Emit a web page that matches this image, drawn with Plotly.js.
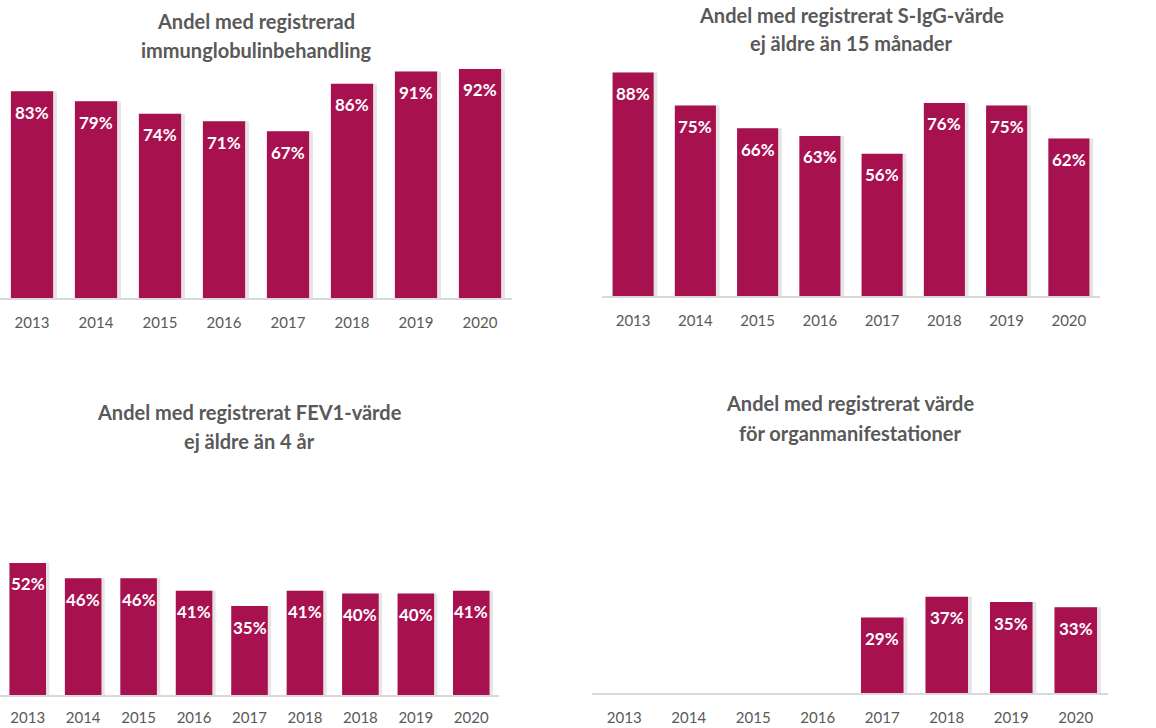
<!DOCTYPE html>
<html>
<head>
<meta charset="utf-8">
<script src="https://cdn.plot.ly/plotly-3.0.1.min.js"></script>
<style>html,body{margin:0;padding:0;background:#fff;}#chart{width:1156px;height:728px;}</style>
</head>
<body>
<div id="chart"></div>
<script>
// ---- data ----
const years8 = ['2013','2014','2015','2016','2017','2018','2019','2020'];
const years9 = ['2013','2014','2015','2016','2017','2018','2018','2019','2020'];
const immunoglobulin = [83,79,74,71,67,86,91,92];
const sIgG = [88,75,66,63,56,76,75,62];
const fev1 = [52,46,46,41,35,41,40,40,41];
const organ = [null,null,null,null,29,37,35,33];
const title1 = ['Andel med registrerad','immunglobulinbehandling'];
const title2 = ['Andel med registrerat S-IgG-värde','ej äldre än 15 månader'];
const title3 = ['Andel med registrerat FEV1-värde','ej äldre än 4 år'];
const title4 = ['Andel med registrerat värde','för organmanifestationer'];

// ---- layout helpers ----
const W = 1156, H = 728;
const BAR = '#A8114F';
const GREY = '#595959';
const FONT = 'Lato, "Open Sans", sans-serif';
function dx(l, r){ return [l / W, r / W]; }
function dy(top, bottom){ return [(H - bottom) / H, (H - top) / H]; }

const panels = [
  {cats: years8, vals: immunoglobulin, title: title1, x: [0, 512], y: [49, 298], tY: [21, 50], sd: 10},
  {cats: years8, vals: sIgG, title: title2, x: [602, 1100], y: [42, 296], tY: [15, 43], sd: 10},
  {cats: years9, vals: fev1, title: title3, x: [0, 499], y: [441, 695], tY: [412, 441], sd: 8},
  {cats: years8, vals: organ, title: title4, x: [592, 1108], y: [433, 693], tY: [403, 433], sd: 10}
];

const traces = [];
const annotations = [];
const layout = {
  width: W, height: H,
  margin: {l: 0, r: 0, t: 0, b: 0},
  paper_bgcolor: '#fff', plot_bgcolor: 'rgba(0,0,0,0)',
  showlegend: false, barmode: 'overlay',
  font: {family: FONT, color: GREY},
  annotations: annotations
};

panels.forEach((p, k) => {
  const n = k + 1;
  const xa = 'x' + (n === 1 ? '' : n), ya = 'y' + (n === 1 ? '' : n);
  const idx = p.cats.map((_, i) => i);
  // soft shadow
  traces.push({
    type: 'bar', x: idx, y: p.vals, xaxis: xa, yaxis: ya,
    width: 0.66, offset: -0.33 + 0.06, marker: {color: 'rgba(0,0,0,0.10)', line: {width: 0}},
    hoverinfo: 'skip'
  });
  traces.push({
    type: 'bar', x: idx, y: p.vals, xaxis: xa, yaxis: ya,
    width: 0.66, offset: -0.33, marker: {color: BAR, line: {width: 0}},
    hoverinfo: 'skip'
  });
  layout['xaxis' + (n === 1 ? '' : n)] = {
    domain: dx(p.x[0], p.x[1]), anchor: ya,
    range: [-0.5, p.cats.length - 0.5],
    tickmode: 'array', tickvals: idx, ticktext: p.cats,
    showline: true, linecolor: '#d9d9d9', linewidth: 1.5,
    showgrid: false, zeroline: false, ticks: '',
    ticklabelstandoff: p.sd,
    tickfont: {family: FONT, size: 15, color: GREY},
    fixedrange: true
  };
  layout['yaxis' + (n === 1 ? '' : n)] = {
    domain: dy(p.y[0], p.y[1]), anchor: xa,
    range: [0, 100], visible: false, fixedrange: true
  };
  p.vals.forEach((v, i) => {
    if (v === null) return;
    annotations.push({
      xref: xa, yref: ya, x: i, y: v, yshift: -21,
      yanchor: 'middle', xanchor: 'center', showarrow: false,
      text: v + '%', font: {family: FONT, size: 17, color: '#fff', weight: 'bold'}
    });
  });
  const cx = ((p.x[0] + p.x[1]) / 2) / W;
  p.title.forEach((t, j) => {
    annotations.push({
      xref: 'paper', yref: 'paper', x: cx, y: (H - p.tY[j]) / H,
      xanchor: 'center', yanchor: 'middle', showarrow: false,
      text: '<b>' + t + '</b>', font: {family: FONT, size: 20, color: GREY}
    });
  });
});

Plotly.newPlot('chart', traces, layout, {displayModeBar: false, staticPlot: true});
</script>
</body>
</html>
